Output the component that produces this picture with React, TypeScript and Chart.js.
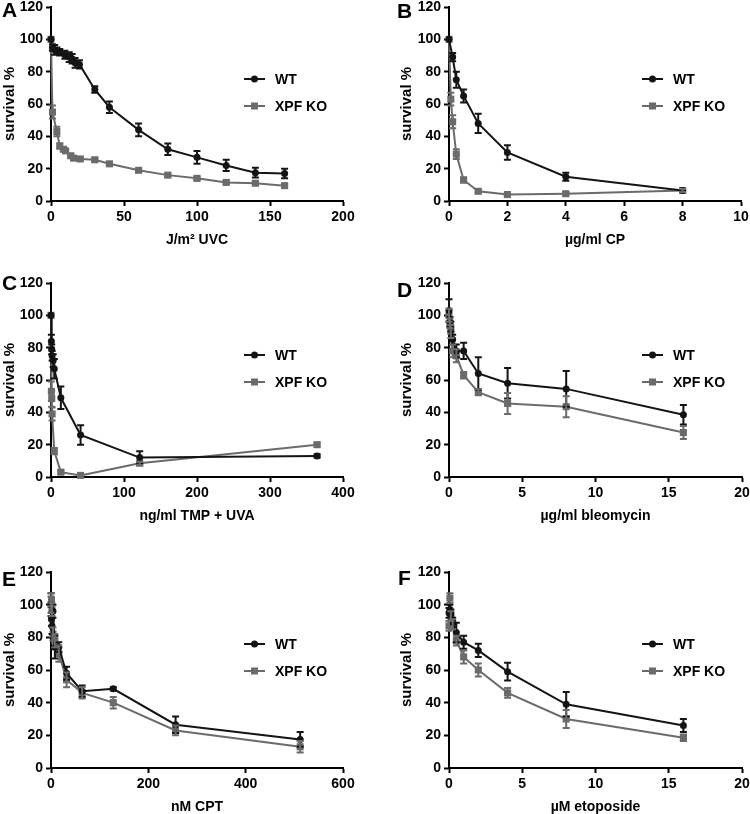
import React, { useEffect, useRef } from "react";
import { Chart, registerables } from "chart.js";
Chart.register(...registerables);

// ---------- DATA ----------
// A: UVC
const uvcDoseWT = [0, 1, 2.5, 4, 6, 9.5, 12.5, 14.5, 16.5, 19.5, 30, 40, 60, 80, 100, 120, 140, 160];
const uvcWT = [100, 95, 93.5, 93, 92, 90.5, 89, 88, 85.5, 84.5, 69, 58, 44, 32, 27, 22, 17.5, 17];
const uvcWTErr = [0, 2, 3, 2, 2, 2.5, 3, 3, 3, 2.5, 2, 3.5, 4, 3.5, 4, 3.5, 3, 3];
const uvcDoseXPF = [0, 1, 4, 6, 8.5, 10, 13.5, 15.5, 20, 30, 40, 60, 80, 100, 120, 140, 160];
const uvcXPF = [100, 55, 43, 34, 32, 31, 28, 26.5, 26, 25.5, 23, 19, 16, 14, 11.5, 11, 9.5];
const uvcXPFErr = [0, 4, 3, 1.5, 1, 1, 1, 1, 1, 1, 1, 1, 1, 1, 1, 1, 1];

// B: CP
const cpDoseWT = [0, 0.125, 0.25, 0.5, 1, 2, 4, 8];
const cpWT = [100, 89, 75, 65, 48, 30, 15, 6.5];
const cpWTErr = [0, 2.5, 5, 4, 6, 4.5, 2.5, 1];
const cpDoseXPF = [0, 0.0625, 0.125, 0.25, 0.5, 1, 2, 4, 8];
const cpXPF = [100, 63, 49, 29, 13, 6, 4, 4.5, 6.5];
const cpXPFErr = [0, 4, 4, 3, 1.5, 1, 1, 1, 1];

// C: TMP + UVA
const tmpDoseWT = [0, 0.5, 1, 1.5, 3, 4.5, 13.5, 40.5, 121.5, 364.5];
const tmpWT = [100, 84, 79, 75, 72, 67, 49, 26, 12, 13];
const tmpWTErr = [0, 4, 3, 3, 4, 6, 7, 6, 4, 1];
const tmpDoseXPF = [0, 0.5, 1, 1.5, 4.5, 13.5, 40.5, 121.5, 364.5];
const tmpXPF = [100, 53, 48.5, 39, 16, 3, 1, 8.5, 20];
const tmpXPFErr = [0, 6, 5, 4, 2, 1, 1, 1, 1];

// D: bleomycin
const bleoDose = [0, 0.0625, 0.125, 0.25, 0.5, 1, 2, 4, 8, 16];
const bleoWT = [103, 96, 93, 85, 78, 78, 64, 58, 54.5, 38.5];
const bleoWTErr = [7, 3, 3, 3, 4, 5, 10, 9.5, 11, 6];
const bleoXPF = [100, 95, 90, 78, 75, 63, 52.5, 45.5, 43.5, 27.5];
const bleoXPFErr = [4, 3, 4, 4, 4, 2, 2, 6.5, 6.5, 4];

// E: CPT
const cptDose = [0, 1, 2, 4, 8, 16, 32, 64, 128, 256, 512];
const cptWT = [100, 91, 87, 96, 74, 74, 58, 47, 48.5, 26.5, 17.5];
const cptWTErr = [7, 4, 5, 4, 7, 3, 4, 3.5, 1, 5, 4.5];
const cptXPF = [100, 103, 97, 82, 78, 70, 54, 46, 40, 23, 13];
const cptXPFErr = [5, 4, 4, 4, 4, 5, 4.5, 3.5, 3.5, 3, 3.5];

// F: etoposide
const etoDose = [0, 0.0625, 0.125, 0.25, 0.5, 1, 2, 4, 8, 16];
const etoWT = [95, 97, 95, 90, 83, 77, 72, 59, 39, 26];
const etoWTErr = [3, 3, 2, 2, 6, 4, 4, 5.5, 7.5, 4];
const etoXPF = [87, 104, 93, 88, 78, 68, 60, 46, 30, 18.5];
const etoXPFErr = [3, 3, 3, 3, 3, 4, 4, 3, 5.5, 2];

const seriesNames = ["WT", "XPF KO"];
const yTicksMax = 120;
const yTickStep = 20;

// ---------- STYLE / LAYOUT ----------
const BLACK = "#141414";
const GRAY = "#6b6b6b";
const FONT = "'Liberation Sans', Arial, Helvetica, sans-serif";

type PanelDef = {
  letter: string;
  xTitle: string;
  xMax: number;
  xStep: number;
  wt: { x: number[]; y: number[]; e: number[] };
  xpf: { x: number[]; y: number[]; e: number[] };
  left: number;
  top: number;
  w: number;
  h: number;
  areaTop: number;
  areaBottom: number;
  areaLeft: number;
  areaRight: number;
  letterX: number;
  letterBase: number;
  yTitleDx: number;
};

const panels: PanelDef[] = [
  {
    letter: "A", xTitle: "J/m² UVC", xMax: 200, xStep: 50,
    wt: { x: uvcDoseWT, y: uvcWT, e: uvcWTErr },
    xpf: { x: uvcDoseXPF, y: uvcXPF, e: uvcXPFErr },
    left: 0, top: 0, w: 372, h: 262, areaTop: 7, areaBottom: 201, areaLeft: 51, areaRight: 343,
    letterX: 2, letterBase: 17, yTitleDx: 41,
  },
  {
    letter: "B", xTitle: "µg/ml CP", xMax: 10, xStep: 2,
    wt: { x: cpDoseWT, y: cpWT, e: cpWTErr },
    xpf: { x: cpDoseXPF, y: cpXPF, e: cpXPFErr },
    left: 372, top: 0, w: 378, h: 262, areaTop: 7, areaBottom: 201, areaLeft: 449, areaRight: 741,
    letterX: 397, letterBase: 18, yTitleDx: 42,
  },
  {
    letter: "C", xTitle: "ng/ml TMP + UVA", xMax: 400, xStep: 100,
    wt: { x: tmpDoseWT, y: tmpWT, e: tmpWTErr },
    xpf: { x: tmpDoseXPF, y: tmpXPF, e: tmpXPFErr },
    left: 0, top: 265, w: 372, h: 265, areaTop: 283, areaBottom: 477, areaLeft: 51, areaRight: 343,
    letterX: 2, letterBase: 290, yTitleDx: 41,
  },
  {
    letter: "D", xTitle: "µg/ml bleomycin", xMax: 20, xStep: 5,
    wt: { x: bleoDose, y: bleoWT, e: bleoWTErr },
    xpf: { x: bleoDose, y: bleoXPF, e: bleoXPFErr },
    left: 372, top: 265, w: 378, h: 265, areaTop: 283, areaBottom: 477, areaLeft: 449, areaRight: 742,
    letterX: 397, letterBase: 297, yTitleDx: 42,
  },
  {
    letter: "E", xTitle: "nM CPT", xMax: 600, xStep: 200,
    wt: { x: cptDose, y: cptWT, e: cptWTErr },
    xpf: { x: cptDose, y: cptXPF, e: cptXPFErr },
    left: 0, top: 550, w: 372, h: 264, areaTop: 572, areaBottom: 768, areaLeft: 51, areaRight: 343,
    letterX: 2, letterBase: 586, yTitleDx: 41,
  },
  {
    letter: "F", xTitle: "µM etoposide", xMax: 20, xStep: 5,
    wt: { x: etoDose, y: etoWT, e: etoWTErr },
    xpf: { x: etoDose, y: etoXPF, e: etoXPFErr },
    left: 372, top: 550, w: 378, h: 264, areaTop: 572, areaBottom: 768, areaLeft: 449, areaRight: 742,
    letterX: 398, letterBase: 585, yTitleDx: 42,
  },
];

const errorBarPlugin = {
  id: "errorBars",
  afterDatasetsDraw(chart: any) {
    const ctx = chart.ctx;
    const xs = chart.scales.x;
    const ys = chart.scales.y;
    chart.data.datasets.forEach((ds: any) => {
      const errs: number[] = ds.errs || [];
      ctx.save();
      ctx.strokeStyle = ds.borderColor;
      ctx.lineWidth = 2;
      ds.data.forEach((pt: any, j: number) => {
        const e = errs[j];
        if (!e) return;
        const px = xs.getPixelForValue(pt.x);
        const yt = ys.getPixelForValue(pt.y + e);
        const yb = ys.getPixelForValue(pt.y - e);
        ctx.beginPath();
        ctx.moveTo(px, yt);
        ctx.lineTo(px, yb);
        ctx.moveTo(px - 3.5, yt);
        ctx.lineTo(px + 3.5, yt);
        ctx.moveTo(px - 3.5, yb);
        ctx.lineTo(px + 3.5, yb);
        ctx.stroke();
      });
      ctx.restore();
    });
  },
};

function makeDecorPlugin(p: PanelDef) {
  return {
    id: "decor",
    afterDraw(chart: any) {
      const ctx = chart.ctx;
      const a = chart.chartArea;
      ctx.save();
      ctx.fillStyle = "#000";
      ctx.font = `bold 21px ${FONT}`;
      ctx.textAlign = "left";
      ctx.textBaseline = "alphabetic";
      ctx.fillText(p.letter, p.letterX - p.left, p.letterBase - p.top);
      ctx.font = `bold 14px ${FONT}`;
      ctx.textAlign = "center";
      ctx.textBaseline = "middle";
      ctx.fillText(p.xTitle, (a.left + a.right) / 2, a.bottom + 39);
      ctx.save();
      ctx.font = `bold 15px ${FONT}`;
      ctx.translate(a.left - p.yTitleDx, (a.top + a.bottom) / 2);
      ctx.rotate(-Math.PI / 2);
      ctx.fillText("survival %", 0, 0);
      ctx.restore();
      const rows = [
        { name: seriesNames[0], color: BLACK, style: "circle", dy: 72 },
        { name: seriesNames[1], color: GRAY, style: "rect", dy: 99 },
      ];
      rows.forEach((r) => {
        const y = a.top + r.dy;
        const x0 = a.left + 193;
        const x1 = a.left + 214;
        ctx.strokeStyle = r.color;
        ctx.fillStyle = r.color;
        ctx.lineWidth = 2;
        ctx.beginPath();
        ctx.moveTo(x0, y);
        ctx.lineTo(x1, y);
        ctx.stroke();
        const cx = (x0 + x1) / 2;
        if (r.style === "circle") {
          ctx.beginPath();
          ctx.arc(cx, y, 3.5, 0, Math.PI * 2);
          ctx.fill();
        } else {
          ctx.fillRect(cx - 3.5, y - 3.5, 7, 7);
        }
        ctx.fillStyle = "#000";
        ctx.font = `bold 14px ${FONT}`;
        ctx.textAlign = "left";
        ctx.textBaseline = "middle";
        ctx.fillText(r.name, a.left + 224, y + 1);
      });
      ctx.restore();
    },
  };
}

function PanelChart({ p }: { p: PanelDef }) {
  const ref = useRef<HTMLCanvasElement>(null);
  useEffect(() => {
    const yAxisW = p.areaLeft - p.left;
    const padRight = p.left + p.w - p.areaRight;
    const padTop = p.areaTop - p.top;
    const xAxisH = p.top + p.h - p.areaBottom;
    const tickFont = { family: FONT, size: 14, weight: "bold" as const };
    const grid = {
      display: true,
      drawOnChartArea: false,
      drawTicks: true,
      tickLength: 5,
      tickWidth: 2,
      tickColor: "#000",
    };
    const chart = new Chart(ref.current as HTMLCanvasElement, {
      type: "scatter",
      data: {
        datasets: [
          {
            label: seriesNames[0],
            data: p.wt.x.map((x, i) => ({ x, y: p.wt.y[i] })),
            errs: p.wt.e,
            showLine: true,
            borderColor: BLACK,
            backgroundColor: BLACK,
            borderWidth: 2,
            pointStyle: "circle",
            pointRadius: 3.5,
            pointBorderWidth: 0,
            clip: false,
          } as any,
          {
            label: seriesNames[1],
            data: p.xpf.x.map((x, i) => ({ x, y: p.xpf.y[i] })),
            errs: p.xpf.e,
            showLine: true,
            borderColor: GRAY,
            backgroundColor: GRAY,
            borderWidth: 2,
            pointStyle: "rect",
            pointRadius: 5,
            pointBorderWidth: 0,
            clip: false,
          } as any,
        ],
      },
      options: {
        responsive: false,
        animation: false,
        events: [],
        layout: { padding: { left: 0, top: padTop, right: padRight, bottom: 0 } },
        plugins: { legend: { display: false }, tooltip: { enabled: false } },
        scales: {
          x: {
            type: "linear",
            min: 0,
            max: p.xMax,
            ticks: { stepSize: p.xStep, font: tickFont, color: "#000", padding: 3, maxRotation: 0 },
            grid,
            border: { display: true, color: "#000", width: 2 },
            afterFit: (s: any) => {
              s.height = xAxisH;
              s.paddingLeft = 0;
              s.paddingRight = 0;
            },
          },
          y: {
            type: "linear",
            min: 0,
            max: yTicksMax,
            ticks: { stepSize: yTickStep, font: tickFont, color: "#000", padding: 3 },
            grid,
            border: { display: true, color: "#000", width: 2 },
            afterFit: (s: any) => {
              s.width = yAxisW;
              s.paddingTop = 0;
              s.paddingBottom = 0;
            },
          },
        },
      },
      plugins: [errorBarPlugin, makeDecorPlugin(p)],
    } as any);
    return () => chart.destroy();
  }, [p]);
  return (
    <canvas
      ref={ref}
      width={p.w}
      height={p.h}
      style={{ position: "absolute", left: p.left, top: p.top, width: p.w, height: p.h }}
    />
  );
}

export default function App() {
  return (
    <div style={{ position: "absolute", left: 0, top: 0, width: 750, height: 814, background: "#fff", overflow: "hidden" }}>
      {panels.map((p) => (
        <PanelChart key={p.letter} p={p} />
      ))}
    </div>
  );
}
